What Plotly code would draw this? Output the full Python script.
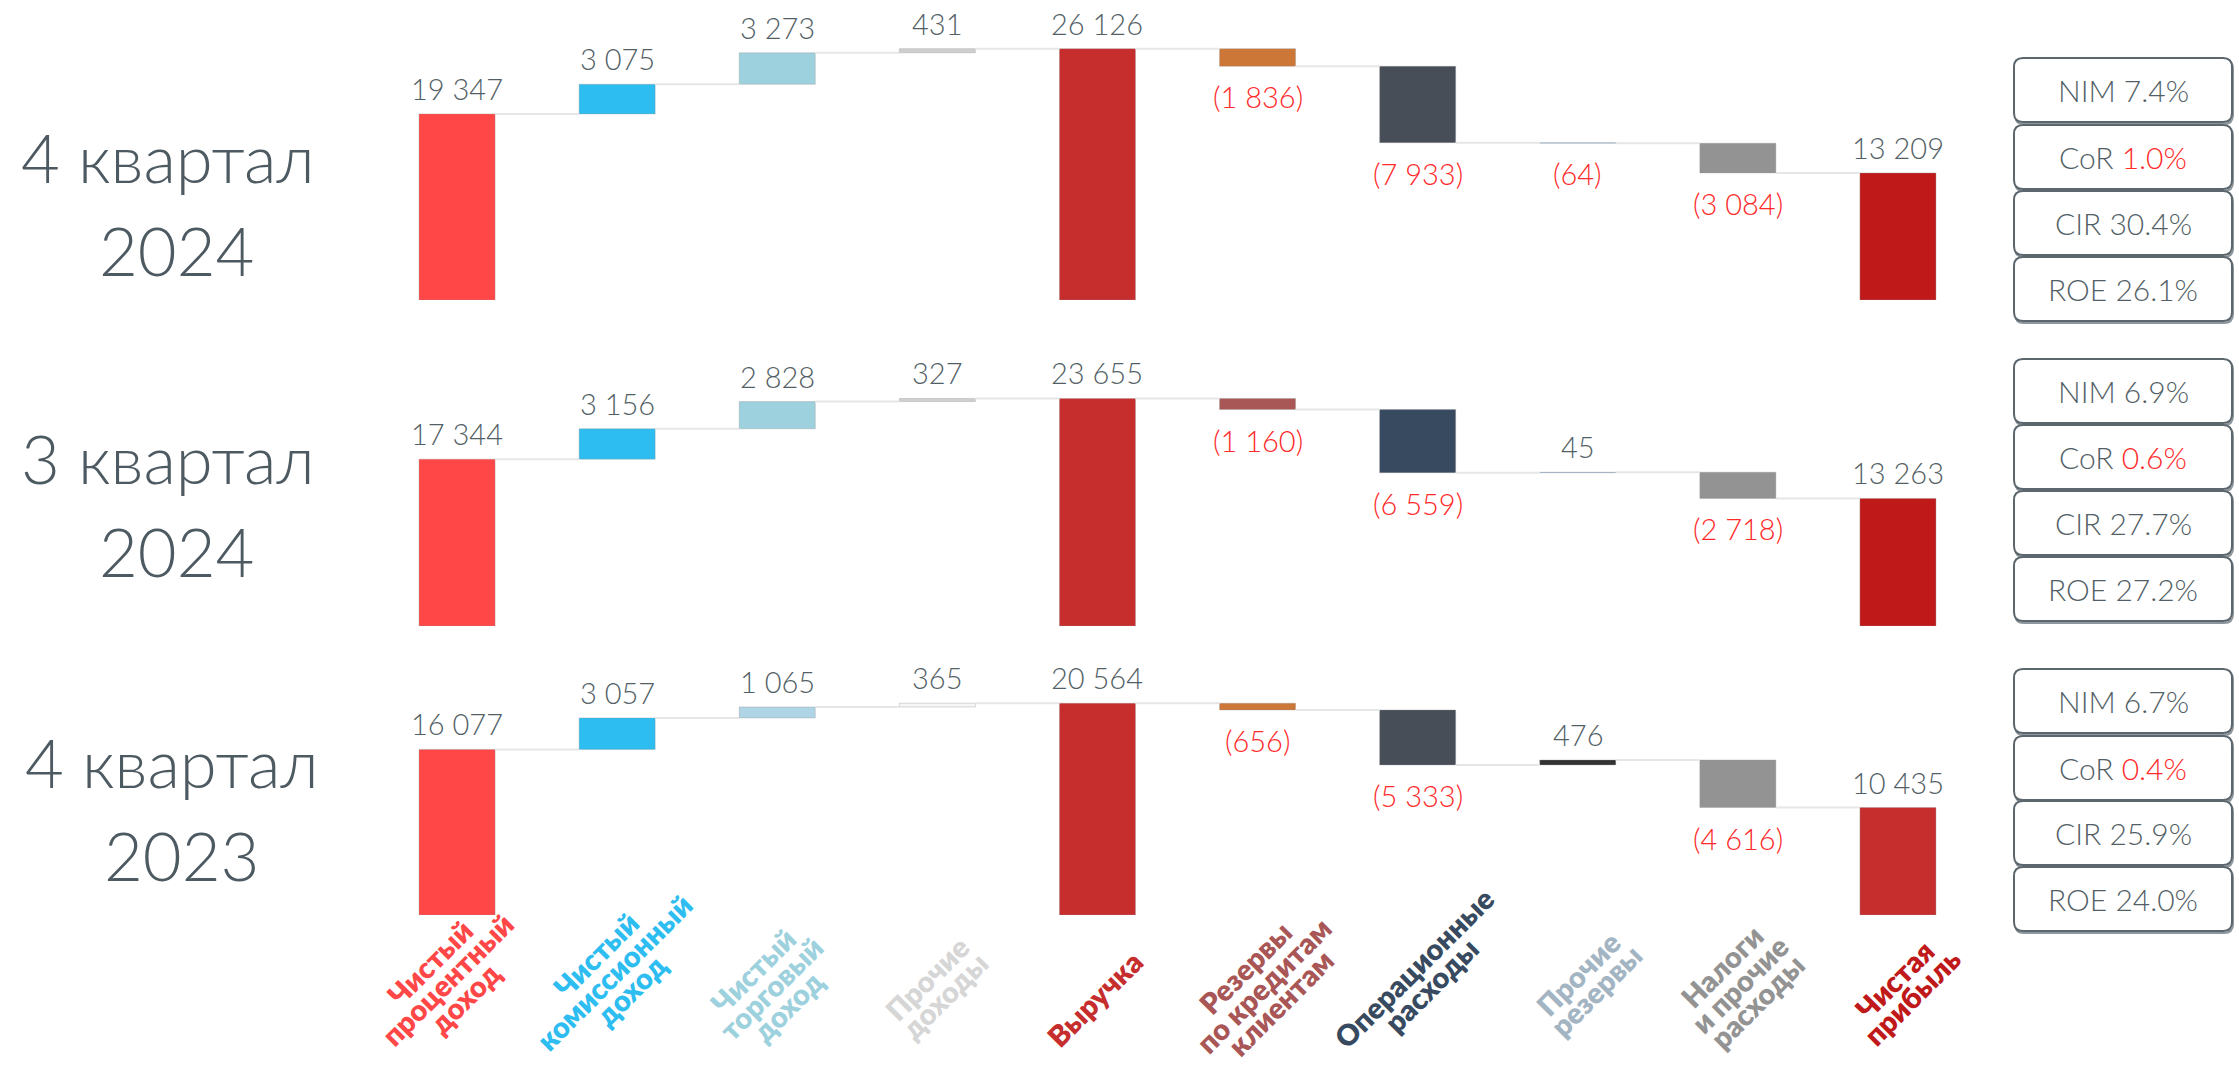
import math
import plotly.graph_objects as go

W, H = 2239, 1067

# ---------------- data ----------------
category_lines = [
    ["Чистый", "процентный", "доход"],
    ["Чистый", "комиссионный", "доход"],
    ["Чистый", "торговый", "доход"],
    ["Прочие", "доходы"],
    ["Выручка"],
    ["Резервы", "по кредитам", "клиентам"],
    ["Операционные", "расходы"],
    ["Прочие", "резервы"],
    ["Налоги", "и прочие", "расходы"],
    ["Чистая", "прибыль"],
]
category_colors = ["#FF4747", "#2DBDF0", "#9DD1DD", "#D6D6D6", "#C62D2D",
                   "#A85656", "#374A60", "#A3B5C3", "#939393", "#C0191A"]
is_total = [False, False, False, False, True, False, False, False, False, True]

period_line1 = ["4 квартал", "3 квартал", "4 квартал"]
period_line2 = ["2024", "2024", "2023"]

q4_2024 = [19347, 3075, 3273, 431, 26126, -1836, -7933, -64, -3084, 13209]
q3_2024 = [17344, 3156, 2828, 327, 23655, -1160, -6559, 45, -2718, 13263]
q4_2023 = [16077, 3057, 1065, 365, 20564, -656, -5333, 476, -4616, 10435]
series = [q4_2024, q3_2024, q4_2023]

colors_q4_2024 = ["#FF4747", "#2DBDF0", "#9DD1DD", "#CFCFCF", "#C62D2D",
                  "#CC7637", "#474E57", "#6FA8DC", "#939393", "#C0191A"]
colors_q3_2024 = ["#FF4747", "#2DBDF0", "#9DD1DD", "#CFCFCF", "#C62D2D",
                  "#A85656", "#374A60", "#6FA8DC", "#939393", "#C0191A"]
colors_q4_2023 = ["#FF4747", "#2DBDF0", "#AED4E6", "#F6F6F6", "#C62D2D",
                  "#CC7637", "#474E57", "#333333", "#939393", "#C62D2D"]
series_colors = [colors_q4_2024, colors_q3_2024, colors_q4_2023]

nim = [7.4, 6.9, 6.7]
cor = [1.0, 0.6, 0.4]
cir = [30.4, 27.7, 25.9]
roe = [26.1, 27.2, 24.0]

# ---------------- layout geometry (pixels in the page) ----------------
panel_zero_px = [300, 626, 915]
panel_top_px = [20, 346, 660]
panel_px_per_unit = [0.00962, 0.00962, 0.0103]
period_y1 = [157, 458, 762]
period_y2 = [250, 551, 855]
period_x1 = [168, 168, 172]
period_x2 = [176, 176, 181]
box_tops = [[58, 125, 191, 257], [359, 425, 491, 557], [669, 736, 801, 867]]
box_h = 64
box_x0, box_x1 = 2014, 2232
plot_x0, plot_x1 = 377, 1978
bar_w = 0.475
label_center_y = [980, 972, 988, 987, 998, 985, 976, 982, 984, 988]
label_shift_x = [-10, -4, -7, -2, -3, 5, 5, 9, 1, 5]
label_line_gap = 25
label_angle = 45

TEXT = "#535F66"
NEG = "#FF2A2A"
FONT = "Lato"


def px(x):
    return x / W


def py(y):
    return 1 - y / H


def fmt(v):
    s = f"{abs(v):,}".replace(",", " ")
    return f"({s})" if v < 0 else s


fig = go.Figure()
annotations = []
shapes = []

for k, vals in enumerate(series):
    yname = "y" if k == 0 else f"y{k + 1}"
    bases, ends, running = [], [], 0
    for v, tot in zip(vals, is_total):
        if tot:
            bases.append(0)
            running = v
        else:
            bases.append(running)
            running += v
        ends.append(running)

    fig.add_trace(go.Bar(
        x=list(range(len(vals))), y=vals, base=bases, width=bar_w,
        marker=dict(color=series_colors[k], line=dict(color="rgba(150,150,150,0.35)", width=1)),
        xaxis="x", yaxis=yname, showlegend=False, hoverinfo="skip",
    ))

    # connectors
    cx, cy = [], []
    for i in range(len(vals) - 1):
        cx += [i + bar_w / 2, i + 1 - bar_w / 2, None]
        cy += [ends[i], ends[i], None]
    fig.add_trace(go.Scatter(
        x=cx, y=cy, mode="lines", line=dict(color="#E6E6E6", width=2),
        xaxis="x", yaxis=yname, showlegend=False, hoverinfo="skip",
    ))

    # value labels
    for i, v in enumerate(vals):
        neg = v < 0
        annotations.append(dict(
            x=i, y=ends[i], xref="x", yref=yname,
            text=fmt(v), showarrow=False,
            yanchor="top" if neg else "bottom", xanchor="center",
            yshift=-11 if neg else 6,
            font=dict(family=FONT, size=29, color=NEG if neg else TEXT, weight=300),
        ))

    # period labels
    annotations.append(dict(
        x=px(period_x1[k]), y=py(period_y1[k]), xref="paper", yref="paper",
        text=period_line1[k], showarrow=False, xanchor="center", yanchor="middle",
        font=dict(family=FONT, size=67, color="#4D5A62", weight=300),
    ))
    annotations.append(dict(
        x=px(period_x2[k]), y=py(period_y2[k]), xref="paper", yref="paper",
        text=period_line2[k], showarrow=False, xanchor="center", yanchor="middle",
        font=dict(family=FONT, size=67, color="#4D5A62", weight=300),
    ))

    # KPI boxes
    kpi_texts = [
        f"NIM {nim[k]:.1f}%",
        f"CoR <span style='color:{NEG}'>{cor[k]:.1f}%</span>",
        f"CIR {cir[k]:.1f}%",
        f"ROE {roe[k]:.1f}%",
    ]
    for j, t in enumerate(kpi_texts):
        top = box_tops[k][j]
        bot = top + box_h
        r = 9
        for dx, dy, col, fill in [(1, 2, "#8C969C", "rgba(0,0,0,0)"), (0, 0, "#5B666D", "white")]:
            x0, x1, y0, y1 = box_x0 + dx, box_x1 + dx, top + dy, bot + dy
            path = (
                f"M {px(x0 + r)},{py(y0)} L {px(x1 - r)},{py(y0)} "
                f"Q {px(x1)},{py(y0)} {px(x1)},{py(y0 + r)} "
                f"L {px(x1)},{py(y1 - r)} Q {px(x1)},{py(y1)} {px(x1 - r)},{py(y1)} "
                f"L {px(x0 + r)},{py(y1)} Q {px(x0)},{py(y1)} {px(x0)},{py(y1 - r)} "
                f"L {px(x0)},{py(y0 + r)} Q {px(x0)},{py(y0)} {px(x0 + r)},{py(y0)} Z"
            )
            shapes.append(dict(type="path", path=path, xref="paper", yref="paper",
                               line=dict(color=col, width=2), fillcolor=fill, layer="above"))
        annotations.append(dict(
            x=px((box_x0 + box_x1) / 2), y=py(top + box_h / 2), xref="paper", yref="paper",
            text=t, showarrow=False, xanchor="center", yanchor="middle",
            font=dict(family=FONT, size=30, color=TEXT, weight=300),
        ))

# category labels: each line as its own rotated annotation, stacked perpendicular
ca = math.cos(math.radians(label_angle))
sa = math.sin(math.radians(label_angle))
for i, (lines, col) in enumerate(zip(category_lines, category_colors)):
    n = len(lines)
    for j, line in enumerate(lines):
        d = (j - (n - 1) / 2) * label_line_gap
        annotations.append(dict(
            x=i, y=py(label_center_y[i]), xref="x", yref="paper", text=line, showarrow=False,
            textangle=-label_angle, xanchor="center", yanchor="middle",
            xshift=d * sa + label_shift_x[i], yshift=-d * ca,
            font=dict(family=FONT, size=29, color=col, weight=800),
        ))

axis_common = dict(visible=False, showgrid=False, zeroline=False, fixedrange=True)
layout_axes = {}
for k in range(3):
    name = "yaxis" if k == 0 else f"yaxis{k + 1}"
    rng_max = (panel_zero_px[k] - panel_top_px[k]) / panel_px_per_unit[k]
    layout_axes[name] = dict(
        domain=[py(panel_zero_px[k]), py(panel_top_px[k])],
        range=[0, rng_max], anchor="x", **axis_common,
    )

fig.update_layout(
    width=W, height=H, margin=dict(l=0, r=0, t=0, b=0),
    paper_bgcolor="white", plot_bgcolor="white",
    xaxis=dict(domain=[px(plot_x0), px(plot_x1)], range=[-0.5, 9.5], **axis_common),
    barmode="overlay",
    annotations=annotations, shapes=shapes,
    **layout_axes,
)
for tr in fig.data:
    tr.cliponaxis = False

fig.write_html(
    "out.html",
    config={"displayModeBar": False},
    post_script="document.body.style.margin='0';document.body.style.overflow='hidden';",
)
